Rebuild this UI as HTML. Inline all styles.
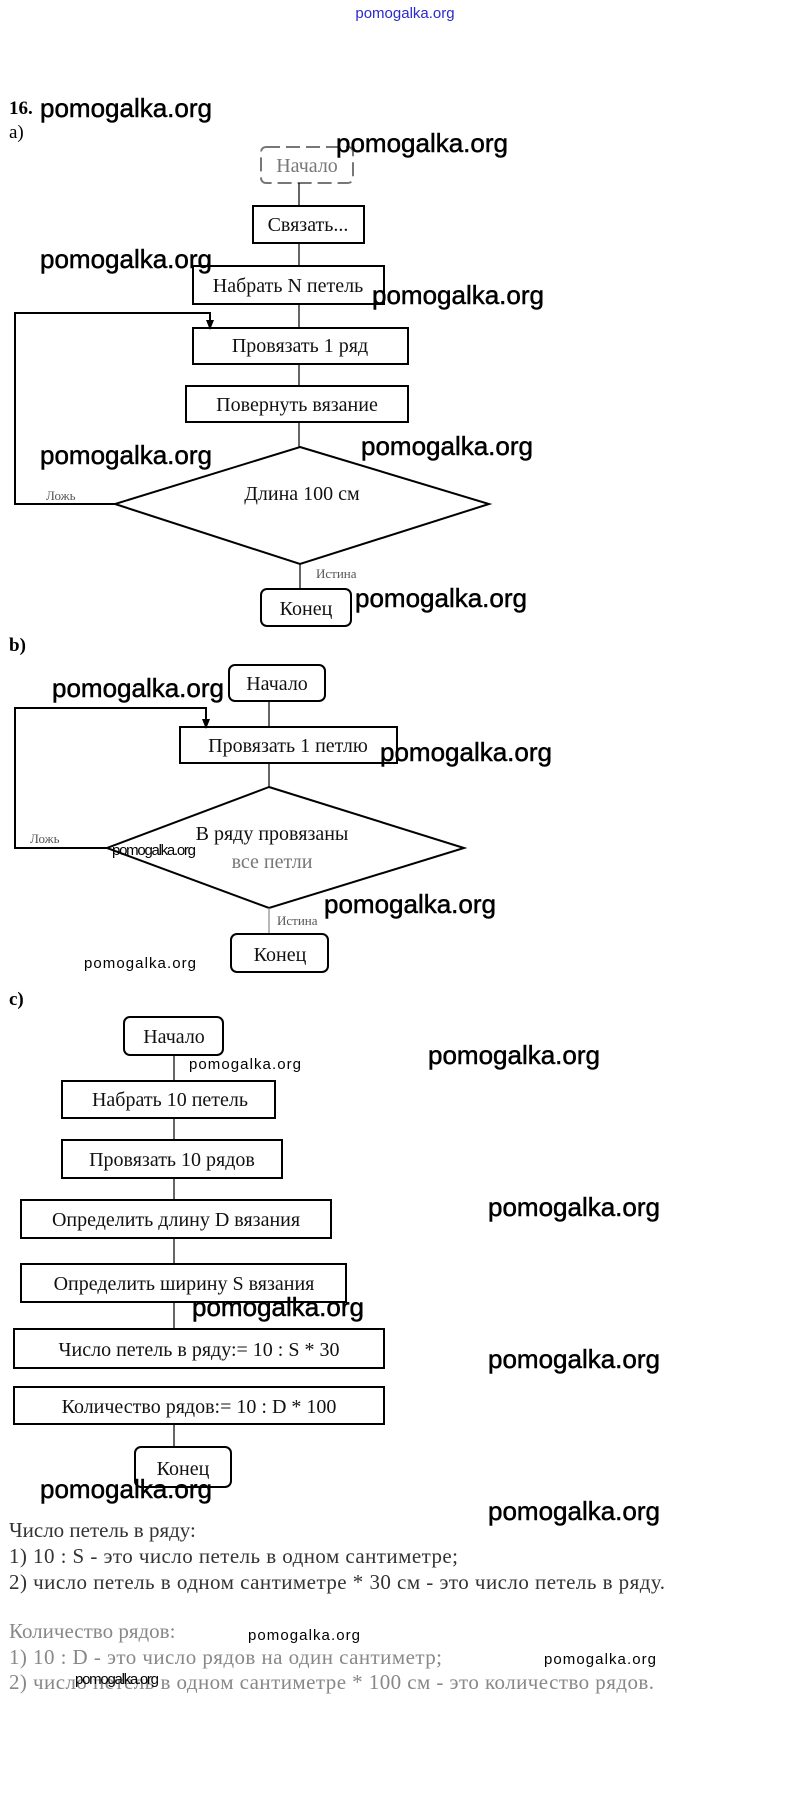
<!DOCTYPE html>
<html><head><meta charset="utf-8"><style>
html,body{margin:0;padding:0;background:#fff;}
svg{display:block;}
.t{font-family:"Liberation Serif","Noto Serif CJK SC",serif;font-size:20px;fill:#111;}
.s{font-family:"Liberation Serif","Noto Serif CJK SC",serif;font-size:13px;fill:#555;}
.w{font-family:"Liberation Sans","DejaVu Sans",sans-serif;font-size:26px;fill:#000;stroke:#000;stroke-width:0.5;}
.ws{font-family:"Liberation Sans","DejaVu Sans",sans-serif;font-size:15px;fill:#000;}
.p{font-family:"Liberation Serif",serif;font-size:21px;}
</style></head><body>
<svg width="808" height="1797" viewBox="0 0 808 1797" xmlns="http://www.w3.org/2000/svg">
<text x="405" y="18" text-anchor="middle" font-family="Liberation Sans,sans-serif" font-size="15" fill="#2a2ad0">pomogalka.org</text>
<text x="9" y="114" font-family="Liberation Serif,serif" font-size="19" font-weight="bold">16.</text>
<text x="9" y="138" font-family="Liberation Serif,serif" font-size="19">a)</text>
<g fill="none" stroke="#000" stroke-width="2">
<rect x="261" y="147" width="92" height="36" rx="5" stroke="#777" stroke-dasharray="14,6"/>
<line x1="299" y1="183" x2="299" y2="206" stroke-width="1.2"/>
<rect x="253" y="206" width="111" height="37"/>
<line x1="299" y1="243" x2="299" y2="266" stroke-width="1.2"/>
<rect x="193" y="266" width="191" height="38"/>
<line x1="299" y1="304" x2="299" y2="328" stroke-width="1.2"/>
<rect x="193" y="328" width="215" height="36"/>
<line x1="299" y1="364" x2="299" y2="386" stroke-width="1.2"/>
<rect x="186" y="386" width="222" height="36"/>
<line x1="299" y1="422" x2="299" y2="447" stroke-width="1.2"/>
<polygon points="300,447 489,504 300,564 115,504"/>
<polyline points="115,504 15,504 15,313 210,313 210,324"/>
<line x1="300" y1="564" x2="300" y2="589" stroke-width="1.2"/>
<rect x="261" y="589" width="90" height="37" rx="6"/>
<rect x="229" y="665" width="96" height="36" rx="6"/>
<line x1="269" y1="701" x2="269" y2="727" stroke-width="1.2"/>
<rect x="180" y="727" width="217" height="36"/>
<line x1="269" y1="763" x2="269" y2="787" stroke-width="1.2"/>
<polygon points="269,787 464,848 269,908 107,848"/>
<polyline points="107,848 15,848 15,708 206,708 206,722"/>
<line x1="269" y1="908" x2="269" y2="934" stroke-width="1.2" stroke="#888"/>
<rect x="231" y="934" width="97" height="38" rx="6"/>
<rect x="124" y="1017" width="99" height="38" rx="6"/>
<line x1="174" y1="1055" x2="174" y2="1081" stroke-width="1.2"/>
<rect x="62" y="1081" width="213" height="37"/>
<line x1="174" y1="1118" x2="174" y2="1140" stroke-width="1.2"/>
<rect x="62" y="1140" width="220" height="38"/>
<line x1="174" y1="1178" x2="174" y2="1200" stroke-width="1.2"/>
<rect x="21" y="1200" width="310" height="38"/>
<line x1="174" y1="1238" x2="174" y2="1264" stroke-width="1.2"/>
<rect x="21" y="1264" width="325" height="38"/>
<line x1="174" y1="1302" x2="174" y2="1329" stroke-width="1.2"/>
<rect x="14" y="1329" width="370" height="39"/>
<rect x="14" y="1387" width="370" height="37"/>
<line x1="174" y1="1424" x2="174" y2="1447" stroke-width="1.2"/>
<rect x="135" y="1447" width="96" height="40" rx="6"/>
</g>
<polygon points="206,729 202,719 210,719" fill="#000"/>
<polygon points="210,330 206,320 214,320" fill="#000"/>
<g class="t" text-anchor="middle">
<text x="307" y="172" fill="#777">Начало</text>
<text x="308" y="231">Связать...</text>
<text x="288" y="292">Набрать N петель</text>
<text x="300" y="352">Провязать 1 ряд</text>
<text x="297" y="411">Повернуть вязание</text>
<text x="302" y="500">Длина 100 см</text>
<text x="306" y="615">Конец</text>
<text x="277" y="690">Начало</text>
<text x="288" y="752">Провязать 1 петлю</text>
<text x="272" y="840">В ряду провязаны</text>
<text x="272" y="868" fill="#777">все петли</text>
<text x="280" y="961">Конец</text>
<text x="174" y="1043">Начало</text>
<text x="170" y="1106">Набрать 10 петель</text>
<text x="172" y="1166">Провязать 10 рядов</text>
<text x="176" y="1226">Определить длину D вязания</text>
<text x="184" y="1290">Определить ширину S вязания</text>
<text x="199" y="1356">Число петель в ряду:= 10 : S * 30</text>
<text x="199" y="1413">Количество рядов:= 10 : D * 100</text>
<text x="183" y="1475">Конец</text>
</g>
<text class="s" x="46" y="500">Ложь</text>
<text class="s" x="316" y="578">Истина</text>
<text class="s" x="30" y="843">Ложь</text>
<text class="s" x="277" y="925" fill="#999">Истина</text>
<text x="9" y="651" font-family="Liberation Serif,serif" font-size="19" font-weight="bold">b)</text>
<text x="9" y="1005" font-family="Liberation Serif,serif" font-size="19" font-weight="bold">c)</text>
<g class="p" fill="#333">
<text x="9" y="1537">Число петель в ряду:</text>
<text x="9" y="1563" textLength="449">1) 10 : S - это число петель в одном сантиметре;</text>
<text x="9" y="1589" textLength="656">2) число петель в одном сантиметре * 30 см - это число петель в ряду.</text>
</g>
<g class="p" fill="#888">
<text x="9" y="1638">Количество рядов:</text>
<text x="9" y="1664" textLength="433">1) 10 : D - это число рядов на один сантиметр;</text>
<text x="9" y="1689" textLength="645">2) число петель в одном сантиметре * 100 см - это количество рядов.</text>
</g>
<g class="w">
<text x="40" y="117" textLength="172">pomogalka.org</text>
<text x="336" y="152" textLength="172">pomogalka.org</text>
<text x="40" y="268" textLength="172">pomogalka.org</text>
<text x="372" y="304" textLength="172">pomogalka.org</text>
<text x="40" y="464" textLength="172">pomogalka.org</text>
<text x="361" y="455" textLength="172">pomogalka.org</text>
<text x="355" y="607" textLength="172">pomogalka.org</text>
<text x="52" y="697" textLength="172">pomogalka.org</text>
<text x="380" y="761" textLength="172">pomogalka.org</text>
<text x="324" y="913" textLength="172">pomogalka.org</text>
<text x="428" y="1064" textLength="172">pomogalka.org</text>
<text x="488" y="1216" textLength="172">pomogalka.org</text>
<text x="192" y="1316" textLength="172">pomogalka.org</text>
<text x="488" y="1368" textLength="172">pomogalka.org</text>
<text x="40" y="1498" textLength="172">pomogalka.org</text>
<text x="488" y="1520" textLength="172">pomogalka.org</text>
</g>
<g class="ws">
<text x="112" y="855" textLength="84">pomogalka.org</text>
<text x="84" y="968" textLength="112">pomogalka.org</text>
<text x="189" y="1069" textLength="112">pomogalka.org</text>
<text x="248" y="1640" textLength="112">pomogalka.org</text>
<text x="544" y="1664" textLength="112">pomogalka.org</text>
<text x="75" y="1684" textLength="84">pomogalka.org</text>
</g>
</svg>
</body></html>
